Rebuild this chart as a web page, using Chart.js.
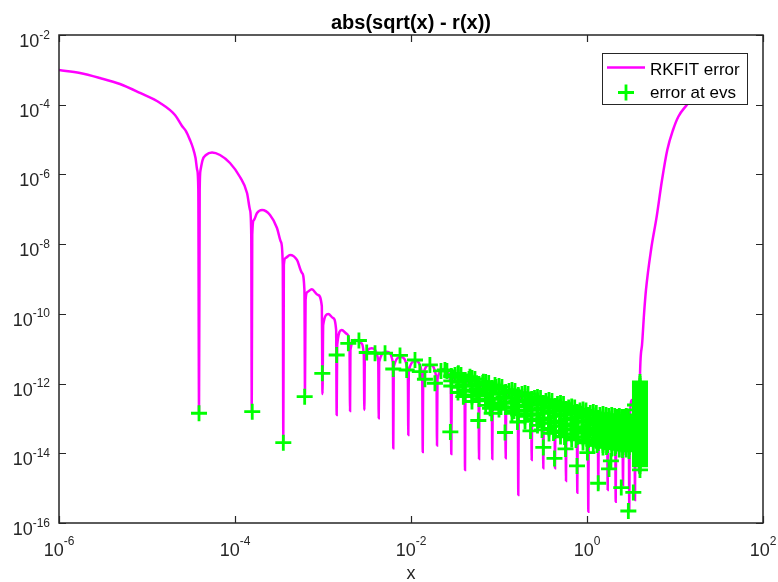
<!DOCTYPE html>
<html><head><meta charset="utf-8">
<script src="https://cdn.jsdelivr.net/npm/chart.js@4.4.0/dist/chart.umd.min.js"></script>
<style>html,body{margin:0;padding:0;background:#fff;}canvas{display:block;}</style>
</head><body>
<canvas id="c" width="778" height="582"></canvas>
<script>
// ---- data ----
const titleText = 'abs(sqrt(x) - r(x))';
const xAxisLabel = 'x';
const seriesNames = ['RKFIT error', 'error at evs'];

const xTickValues = [1e-6, 1e-4, 1e-2, 1e0, 1e2];
const xTickExps   = ['-6', '-4', '-2', '0', '2'];
const yTickValues = [1e-16, 1e-14, 1e-12, 1e-10, 1e-8, 1e-6, 1e-4, 1e-2];
const yTickExps   = ['-16', '-14', '-12', '-10', '-8', '-6', '-4', '-2'];

// RKFIT error curve
const rkX = [
 1e-6, 1.73e-6, 2.92e-6, 4.93e-6, 8.33e-6, 1.41e-5, 2.08e-5, 2.50e-5, 2.77e-5, 3.08e-5,
 3.33e-5, 3.56e-5, 3.72e-5, 3.83e-5, 3.90e-5, 3.97e-5, 4.06e-5, 4.28e-5, 4.68e-5, 5.48e-5,
 6.75e-5, 8.77e-5, 1.14e-4,
 1.37e-4, 1.48e-4, 1.53e-4, 1.55e-4, 1.57e-4, 1.64e-4, 1.78e-4, 2.03e-4, 2.50e-4, 3.00e-4,
 3.33e-4, 3.49e-4, 3.54e-4, 3.59e-4, 3.75e-4, 4.22e-4, 5.06e-4, 5.77e-4, 6.15e-4, 6.24e-4,
 6.34e-4, 6.67e-4, 7.44e-4, 8.77e-4, 9.69e-4, 9.87e-4, 1.005e-3, 1.15e-3, 1.30e-3, 1.41e-3,
 1.43e-3, 1.45e-3, 1.63e-3, 1.87e-3, 2.00e-3, 2.03e-3, 2.05e-3, 2.31e-3, 2.70e-3, 2.91e-3,
 2.95e-3, 2.99e-3, 3.58e-3, 4.24e-3, 4.30e-3, 4.35e-3, 5.30e-3, 6.21e-3, 6.29e-3, 6.37e-3,
 7.66e-3, 9.20e-3, 9.32e-3, 9.44e-3, 1.125e-2, 1.34e-2, 1.36e-2, 1.376e-2, 1.644e-2, 1.95e-2,
 1.975e-2, 2.00e-2, 2.37e-2, 2.83e-2, 2.87e-2, 2.91e-2, 3.42e-2, 4.06e-2, 4.11e-2, 4.16e-2,
 4.93e-2, 5.85e-2, 5.93e-2, 6.00e-2, 7.06e-2, 8.28e-2, 8.39e-2, 8.50e-2, 0.100, 0.1176,
 0.1192, 0.1208, 0.1405, 0.1635, 0.1657, 0.1679, 0.1975, 0.2322, 0.2353, 0.2384,
 0.2738, 0.3146, 0.3187, 0.3229, 0.370, 0.4273, 0.4329, 0.4385, 0.500, 0.5697,
 0.5773, 0.5848, 0.670, 0.7658, 0.7759, 0.786, 0.9006, 1.021, 1.035, 1.048,
 1.179, 1.327, 1.344, 1.362, 1.52, 1.696, 1.719, 1.742, 1.909, 2.092,
 2.119, 2.147, 2.328, 2.532, 2.566, 2.599, 2.790, 2.985, 3.025, 3.064,
 3.246, 3.466, 3.512, 3.557, 3.700, 3.858, 3.898, 4.00, 4.22, 4.44,
 4.68, 5.34, 6.19, 7.12, 8.17, 9.49, 10.9, 13.6, 19.2
];
const rkY = [
 9.9e-4, 8.13e-4, 5.84e-4, 3.93e-4, 2.17e-4, 1.12e-4, 5.07e-5, 2.45e-5, 1.76e-5, 9.73e-6,
 5.73e-6, 2.96e-6, 1.34e-6, 3.58e-7, 1.41e-13, 3.58e-7, 1.34e-6, 2.59e-6, 3.61e-6, 4.26e-6,
 3.61e-6, 2.13e-6, 8.45e-7,
 2.94e-7, 9.55e-8, 1.83e-8, 1.56e-13, 1.83e-8, 4.93e-8, 7.83e-8, 9.55e-8, 6.86e-8, 2.91e-8,
 1.15e-8, 2.52e-9, 2.41e-14, 2.52e-9, 4.01e-9, 4.89e-9, 3.52e-9, 1.49e-9, 4.84e-10, 5.27e-13,
 2.50e-10, 4.25e-10, 5.07e-10, 3.48e-10, 1.68e-10, 5.04e-13, 4.80e-11, 9.93e-11, 7.62e-11, 3.45e-11,
 1.26e-13, 1.28e-11, 3.45e-11, 2.65e-11, 1.28e-11, 1.64e-13, 9.2e-12, 1.78e-11, 1.46e-11, 6.61e-12,
 1.75e-13, 5.42e-12, 1.03e-11, 4.75e-12, 1.01e-13, 4.17e-12, 8.22e-12, 4.17e-12, 1.39e-14, 2.99e-12,
 5.79e-12, 2.30e-12, 3.36e-14, 2.30e-12, 4.45e-12, 1.77e-12, 1.09e-14, 1.77e-12, 3.42e-12, 1.36e-12,
 1.66e-14, 1.36e-12, 2.62e-12, 1.04e-12, 9.57e-15, 1.04e-12, 2.01e-12, 8.0e-13, 3.33e-15, 8.0e-13,
 1.55e-12, 6.14e-13, 6.87e-15, 6.14e-13, 1.19e-12, 4.71e-13, 6.87e-15, 4.71e-13, 9.12e-13, 3.61e-13,
 7.19e-15, 3.61e-13, 7.0e-13, 2.78e-13, 6.37e-16, 2.78e-13, 5.74e-13, 2.28e-13, 6.43e-15, 2.28e-13,
 4.41e-13, 1.75e-13, 3.72e-15, 1.75e-13, 3.61e-13, 1.44e-13, 3.72e-15, 1.44e-13, 2.96e-13, 1.18e-13,
 1.61e-15, 1.18e-13, 2.36e-13, 9.33e-14, 7.41e-16, 9.33e-14, 1.93e-13, 7.66e-14, 2.11e-16, 7.66e-14,
 1.64e-13, 6.49e-14, 9.93e-16, 6.49e-14, 1.44e-13, 5.69e-14, 8.87e-16, 5.69e-14, 1.34e-13, 5.32e-14,
 4.09e-16, 5.32e-14, 1.26e-13, 4.99e-14, 1.23e-15, 4.99e-14, 1.26e-13, 5.69e-14, 2.37e-16, 9.04e-14,
 3.39e-13, 2.43e-13, 4.58e-16, 3.39e-13, 6.55e-13, 4.71e-13, 2.73e-15, 1.65e-12, 1.28e-11, 9.29e-11,
 4.84e-10, 6.81e-9, 6.14e-8, 6.93e-7, 5.02e-6, 1.88e-5, 4.53e-5, 9.82e-5, 3.02e-4
];

// error at eigenvalues (groups on matching lines in both arrays)
const evX = [
 3.90e-5, 1.57e-4, 3.54e-4, 6.19e-4, 9.82e-4, 1.43e-3, 1.94e-3, 2.56e-3, 3.14e-3, 3.90e-3,
 5.07e-3, 6.29e-3, 7.50e-3, 8.93e-3, 1.11e-2, 1.26e-2, 1.44e-2, 1.64e-2, 1.87e-2, 2.43e-2,
 2.80e-2, 2.90e-2, 3.45e-2, 3.93e-2, 4.68e-2, 5.58e-2, 5.82e-2, 6.64e-2, 7.24e-2, 7.91e-2,
 8.26e-2, 9.01e-2, 0.117, 0.162, 0.228, 0.319, 0.427, 0.570, 0.770, 1.01,
 1.34, 1.78, 2.45, 2.95, 3.36, 4.0, 1.87, 1.52,
 3.42e-2, 3.90e-2, 4.93e-2, 5.62e-2, 7.06e-2, 7.96e-2, 7.44e-2, 0.100, 0.113, 0.1054,
 0.1405, 0.157, 0.148, 0.1975, 0.2234, 0.208, 0.2738, 0.3024, 0.2885, 0.308,
 0.370, 0.411, 0.390, 0.416, 0.500, 0.548, 0.527, 0.555, 0.670, 0.736,
 0.706, 0.750, 0.901, 0.982, 0.949, 1.00, 1.179, 1.276, 1.243, 1.30,
 1.52, 1.63, 1.60, 1.666, 1.909, 2.01, 2.01, 2.08, 2.328, 2.43,
 2.45, 2.532, 2.790, 2.886, 2.924, 3.0,
 2.19e-2, 2.56e-2, 3.16e-2, 3.70e-2, 4.56e-2, 5.33e-2, 6.53e-2, 7.64e-2, 9.25e-2, 0.108,
 0.130, 0.152, 0.1826, 0.2136, 0.2532, 0.2962, 0.342, 0.400, 0.462, 0.541,
 0.619, 0.725, 0.833, 0.974, 1.09, 1.276, 1.405, 1.644, 1.765, 2.064,
 2.193, 2.473, 2.633, 2.954,
 2.87e-2, 2.87e-2, 2.87e-2,
 4.11e-2, 4.11e-2, 4.11e-2, 4.11e-2,
 5.93e-2, 5.93e-2, 5.93e-2, 5.93e-2,
 8.39e-2, 8.39e-2, 8.39e-2, 8.39e-2,
 0.1192, 0.1192, 0.1192, 0.1192,
 0.1657, 0.1657, 0.1657, 0.1657, 0.1657,
 0.2353, 0.2353, 0.2353, 0.2353, 0.2353,
 0.3187, 0.3187, 0.3187, 0.3187, 0.3187,
 0.4329, 0.4329, 0.4329, 0.4329, 0.4329, 0.4329,
 0.5773, 0.5773, 0.5773, 0.5773, 0.5773, 0.5773,
 0.7759, 0.7759, 0.7759, 0.7759, 0.7759, 0.7759,
 1.035, 1.035, 1.035, 1.035, 1.035, 1.035,
 1.344, 1.344, 1.344, 1.344, 1.344, 1.344,
 1.719, 1.719, 1.719, 1.719, 1.719, 1.719,
 2.119, 2.119, 2.119, 2.119, 2.119, 2.119,
 2.566, 2.566, 2.566, 2.566, 2.566, 2.566,
 3.025, 3.025, 3.025, 3.025, 3.025, 3.025,
 3.512, 3.512, 3.512, 3.512, 3.512, 3.512, 3.512, 3.512, 3.512, 3.512,
 3.42e-2, 3.42e-2, 3.42e-2, 3.42e-2,
 4.93e-2, 4.93e-2, 4.93e-2, 4.93e-2, 4.93e-2,
 7.06e-2, 7.06e-2, 7.06e-2, 7.06e-2, 7.06e-2,
 0.100, 0.100, 0.100, 0.100, 0.100,
 0.1405, 0.1405, 0.1405, 0.1405, 0.1405,
 0.1975, 0.1975, 0.1975, 0.1975, 0.1975, 0.1975,
 0.2738, 0.2738, 0.2738, 0.2738, 0.2738, 0.2738,
 0.370, 0.370, 0.370, 0.370, 0.370, 0.370, 0.370,
 0.500, 0.500, 0.500, 0.500, 0.500, 0.500, 0.500,
 0.670, 0.670, 0.670, 0.670, 0.670, 0.670, 0.670,
 0.9006, 0.9006, 0.9006, 0.9006, 0.9006, 0.9006, 0.9006,
 1.179, 1.179, 1.179, 1.179, 1.179, 1.179, 1.179,
 1.52, 1.52, 1.52, 1.52, 1.52, 1.52, 1.52,
 1.909, 1.909, 1.909, 1.909, 1.909, 1.909, 1.909,
 2.328, 2.328, 2.328, 2.328, 2.328, 2.328, 2.328,
 2.790, 2.790, 2.790, 2.790, 2.790, 2.790, 2.790,
 4.0, 4.0, 4.0, 4.0, 4.0, 4.0, 4.0, 4.0, 4.0, 4.0,
 4.0, 4.0, 4.0, 4.0, 4.0, 4.0, 4.0, 4.0, 4.0, 4.0,
 4.0, 4.0, 4.0, 4.0, 4.0, 4.0, 4.0, 4.0, 4.0, 4.0,
 4.0, 4.0, 4.0, 4.0, 4.0, 4.0, 4.0, 4.0, 4.0, 4.0,
 4.0, 4.0, 4.0
];
const evY = [
 1.41e-13, 1.56e-13, 2.02e-14, 4.21e-13, 1.97e-12, 6.61e-12, 1.43e-11, 1.72e-11, 7.80e-12, 7.40e-12,
 7.40e-12, 2.62e-12, 6.40e-12, 2.45e-12, 4.75e-12, 2.19e-12, 1.33e-12, 3.42e-12, 1.02e-12, 2.45e-12,
 4.09e-14, 1.55e-12, 1.97e-12, 4.21e-13, 1.58e-12, 5.86e-13, 8.73e-14, 1.13e-12, 6.55e-13, 1.95e-13,
 1.41e-13, 9.12e-13, 3.95e-14, 7.91e-14, 4.37e-14, 1.47e-14, 7.10e-15, 1.33e-14, 4.33e-15, 1.05e-14,
 1.38e-15, 3.55e-15, 1.04e-15, 2.21e-16, 7.52e-16, 3.33e-15, 6.03e-15, 1.73e-14,
 1.88e-12, 9.12e-13, 1.45e-12, 7.0e-13, 1.11e-12, 5.37e-13, 3.17e-13, 8.53e-13, 4.13e-13, 2.13e-13,
 6.55e-13, 3.17e-13, 1.64e-13, 5.37e-13, 2.60e-13, 1.34e-13, 4.13e-13, 2.0e-13, 9.04e-14, 4.67e-14,
 3.39e-13, 1.64e-13, 7.41e-14, 3.83e-14, 2.78e-13, 1.34e-13, 6.08e-14, 2.94e-14, 2.20e-13, 1.03e-13,
 4.67e-14, 2.41e-14, 1.81e-13, 8.45e-14, 3.83e-14, 1.98e-14, 1.53e-13, 7.41e-14, 3.36e-14, 1.73e-14,
 1.34e-13, 6.49e-14, 2.94e-14, 1.52e-14, 1.26e-13, 6.08e-14, 2.75e-14, 1.42e-14, 1.18e-13, 5.69e-14,
 2.58e-14, 1.24e-14, 1.18e-13, 5.69e-14, 2.58e-14, 1.17e-14,
 2.30e-12, 2.30e-12, 1.77e-12, 1.77e-12, 1.36e-12, 1.36e-12, 1.04e-12, 1.04e-12, 8.0e-13, 8.0e-13,
 6.14e-13, 6.14e-13, 5.04e-13, 5.04e-13, 3.86e-13, 3.86e-13, 3.17e-13, 3.17e-13, 2.60e-13, 2.60e-13,
 2.06e-13, 2.06e-13, 1.70e-13, 1.70e-13, 1.44e-13, 1.44e-13, 1.26e-13, 1.26e-13, 1.18e-13, 1.18e-13,
 1.10e-13, 1.10e-13, 1.10e-13, 1.10e-13,
 1.65e-12, 1.19e-12, 8.53e-13,
 1.27e-12, 9.12e-13, 6.55e-13, 4.71e-13,
 9.75e-13, 7.0e-13, 5.04e-13, 3.61e-13,
 7.48e-13, 5.37e-13, 3.86e-13, 2.78e-13,
 5.74e-13, 4.13e-13, 2.96e-13, 2.13e-13,
 4.71e-13, 3.39e-13, 2.43e-13, 1.75e-13, 1.26e-13,
 3.61e-13, 2.60e-13, 1.87e-13, 1.34e-13, 9.66e-14,
 2.78e-13, 2.0e-13, 1.44e-13, 1.03e-13, 7.41e-14,
 2.28e-13, 1.64e-13, 1.18e-13, 8.45e-14, 6.08e-14, 4.37e-14,
 1.87e-13, 1.34e-13, 9.66e-14, 6.93e-14, 4.99e-14, 3.58e-14,
 1.53e-13, 1.10e-13, 7.92e-14, 5.69e-14, 4.09e-14, 2.94e-14,
 1.26e-13, 9.04e-14, 6.49e-14, 4.67e-14, 3.36e-14, 2.41e-14,
 1.03e-13, 7.41e-14, 5.32e-14, 3.83e-14, 2.75e-14, 1.98e-14,
 9.04e-14, 6.49e-14, 4.67e-14, 3.36e-14, 2.41e-14, 1.73e-14,
 8.45e-14, 6.08e-14, 4.37e-14, 3.14e-14, 2.26e-14, 1.62e-14,
 7.92e-14, 5.69e-14, 4.09e-14, 2.94e-14, 2.11e-14, 1.52e-14,
 7.92e-14, 5.69e-14, 4.09e-14, 2.94e-14, 2.11e-14, 1.52e-14,
 2.43e-13, 1.75e-13, 1.26e-13, 9.04e-14, 6.49e-14, 4.67e-14, 3.36e-14, 2.41e-14, 1.73e-14, 1.24e-14,
 1.50e-12, 1.08e-12, 7.73e-13, 5.55e-13,
 1.15e-12, 8.27e-13, 5.94e-13, 4.27e-13, 3.06e-13,
 8.82e-13, 6.34e-13, 4.55e-13, 3.27e-13, 2.36e-13,
 6.78e-13, 4.87e-13, 3.50e-13, 2.51e-13, 1.81e-13,
 5.21e-13, 3.74e-13, 2.69e-13, 1.93e-13, 1.39e-13,
 4.27e-13, 3.06e-13, 2.20e-13, 1.59e-13, 1.14e-13, 8.19e-14,
 3.27e-13, 2.36e-13, 1.70e-13, 1.22e-13, 8.73e-14, 6.28e-14,
 2.69e-13, 1.93e-13, 1.39e-13, 1.0e-13, 7.17e-14, 5.16e-14, 3.71e-14,
 2.20e-13, 1.59e-13, 1.14e-13, 8.19e-14, 5.88e-14, 4.23e-14, 3.04e-14,
 1.81e-13, 1.30e-13, 9.33e-14, 6.72e-14, 4.83e-14, 3.47e-14, 2.49e-14,
 1.48e-13, 1.07e-13, 7.67e-14, 5.50e-14, 3.96e-14, 2.85e-14, 2.04e-14,
 1.22e-13, 8.73e-14, 6.28e-14, 4.51e-14, 3.25e-14, 2.33e-14, 1.68e-14,
 1.07e-13, 7.67e-14, 5.50e-14, 3.96e-14, 2.85e-14, 2.04e-14, 1.47e-14,
 1.0e-13, 7.17e-14, 5.16e-14, 3.71e-14, 2.66e-14, 1.92e-14, 1.37e-14,
 9.33e-14, 6.72e-14, 4.83e-14, 3.47e-14, 2.49e-14, 1.79e-14, 1.29e-14,
 9.33e-14, 6.72e-14, 4.83e-14, 3.47e-14, 2.49e-14, 1.79e-14, 1.29e-14,
 1.11e-12, 9.75e-13, 8.53e-13, 7.48e-13, 6.55e-13, 5.74e-13, 5.04e-13, 4.41e-13, 3.86e-13, 3.39e-13,
 2.96e-13, 2.60e-13, 2.28e-13, 2.0e-13, 1.75e-13, 1.53e-13, 1.34e-13, 1.18e-13, 1.03e-13, 9.04e-14,
 7.92e-14, 6.93e-14, 6.08e-14, 5.32e-14, 4.67e-14, 4.09e-14, 3.58e-14, 3.14e-14, 2.75e-14, 2.41e-14,
 2.11e-14, 1.85e-14, 1.62e-14, 1.42e-14, 1.24e-14, 1.09e-14, 9.57e-15, 8.38e-15, 7.34e-15, 6.43e-15,
 5.64e-15, 4.94e-15, 4.33e-15
];

// ---- styling ----
const MAGENTA = '#ff00ff';
const GREEN = '#00ff00';
const AXIS = '#262626';
const FONT = '"Liberation Sans", Arial, Helvetica, sans-serif';

const rkData = rkX.map((x, i) => ({ x: x, y: rkY[i] }));
const evData = evX.map((x, i) => ({ x: x, y: evY[i] }));

const decor = {
  id: 'decor',
  afterDraw(chart) {
    const ctx = chart.ctx;
    const a = chart.chartArea;
    const xs = chart.scales.x, ys = chart.scales.y;
    ctx.save();
    ctx.strokeStyle = AXIS;
    ctx.lineWidth = 1.5;
    ctx.strokeRect(a.left, a.top, a.right - a.left, a.bottom - a.top);
    ctx.lineWidth = 1.2;
    ctx.beginPath();
    xTickValues.forEach(v => {
      const p = Math.round(xs.getPixelForValue(v)) + 0.5;
      ctx.moveTo(p, a.bottom); ctx.lineTo(p, a.bottom - 7);
      ctx.moveTo(p, a.top); ctx.lineTo(p, a.top + 7);
    });
    yTickValues.forEach(v => {
      const p = Math.round(ys.getPixelForValue(v)) + 0.5;
      ctx.moveTo(a.left, p); ctx.lineTo(a.left + 7, p);
      ctx.moveTo(a.right, p); ctx.lineTo(a.right - 7, p);
    });
    ctx.stroke();
    ctx.fillStyle = AXIS;
    ctx.textAlign = 'left';
    ctx.textBaseline = 'alphabetic';
    const bigF = '18px ' + FONT, supF = '12px ' + FONT;
    xTickValues.forEach((v, i) => {
      const p = xs.getPixelForValue(v);
      ctx.font = bigF; const w1 = ctx.measureText('10').width;
      ctx.font = supF; const w2 = ctx.measureText(xTickExps[i]).width;
      const s = p - (w1 + w2) / 2;
      ctx.font = bigF; ctx.fillText('10', s, a.bottom + 33);
      ctx.font = supF; ctx.fillText(xTickExps[i], s + w1, a.bottom + 22);
    });
    yTickValues.forEach((v, i) => {
      const p = ys.getPixelForValue(v);
      ctx.font = bigF; const w1 = ctx.measureText('10').width;
      ctx.font = supF; const w2 = ctx.measureText(yTickExps[i]).width;
      const s = a.left - 9 - (w1 + w2);
      ctx.font = bigF; ctx.fillText('10', s, p + 12);
      ctx.font = supF; ctx.fillText(yTickExps[i], s + w1, p + 3.5);
    });
    ctx.textAlign = 'center';
    ctx.font = '18px ' + FONT;
    ctx.fillText(xAxisLabel, (a.left + a.right) / 2, 579);
    ctx.fillStyle = '#000';
    ctx.font = 'bold 20px ' + FONT;
    ctx.fillText(titleText, (a.left + a.right) / 2, 29);
    // legend box
    const lx = 602, ly = 53, lw = 145, lh = 51;
    ctx.fillStyle = '#fff';
    ctx.fillRect(lx, ly, lw, lh);
    ctx.strokeStyle = AXIS;
    ctx.lineWidth = 1;
    ctx.strokeRect(lx + 0.5, ly + 0.5, lw, lh);
    ctx.strokeStyle = MAGENTA;
    ctx.lineWidth = 2.5;
    ctx.beginPath(); ctx.moveTo(607, 67.5); ctx.lineTo(645, 67.5); ctx.stroke();
    ctx.strokeStyle = GREEN;
    ctx.lineWidth = 2.8;
    ctx.beginPath();
    ctx.moveTo(618, 92.5); ctx.lineTo(634, 92.5);
    ctx.moveTo(626, 84.5); ctx.lineTo(626, 100.5);
    ctx.stroke();
    ctx.fillStyle = '#000';
    ctx.textAlign = 'left';
    ctx.font = '17px ' + FONT;
    ctx.fillText(seriesNames[0], 650, 75);
    ctx.fillText(seriesNames[1], 650, 98);
    ctx.restore();
  }
};

new Chart(document.getElementById('c'), {
  type: 'line',
  data: {
    datasets: [
      {
        label: seriesNames[0],
        data: rkData,
        borderColor: MAGENTA,
        backgroundColor: MAGENTA,
        borderWidth: 2.5,
        pointRadius: 0,
        pointHoverRadius: 0,
        fill: false,
        cubicInterpolationMode: 'monotone',
        order: 2
      },
      {
        label: seriesNames[1],
        data: evData,
        showLine: false,
        pointStyle: 'cross',
        pointRadius: 8,
        pointHoverRadius: 8,
        pointBorderWidth: 2.8,
        borderColor: GREEN,
        backgroundColor: GREEN,
        order: 1
      }
    ]
  },
  options: {
    responsive: false,
    animation: false,
    devicePixelRatio: 1,
    layout: { padding: { left: 59, top: 35, right: 15, bottom: 59 } },
    plugins: { legend: { display: false }, title: { display: false }, tooltip: { enabled: false } },
    events: [],
    scales: {
      x: { type: 'logarithmic', min: 1e-6, max: 1e2, display: false },
      y: { type: 'logarithmic', min: 1e-16, max: 1e-2, display: false }
    }
  },
  plugins: [decor]
});
</script>
</body></html>
